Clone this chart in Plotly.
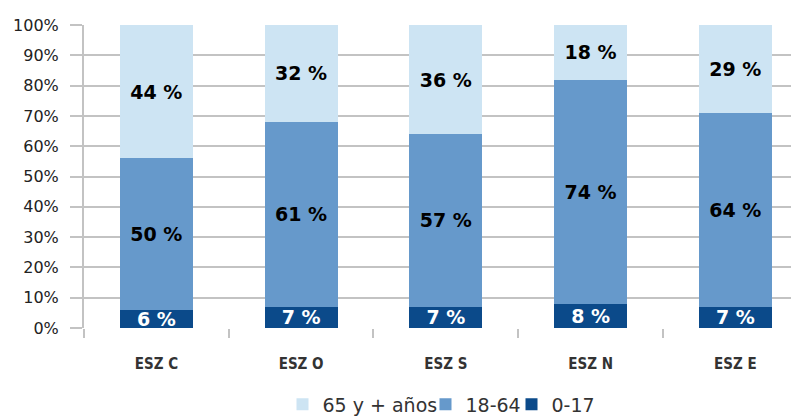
import plotly.graph_objects as go

# Datos
zonas = ['ESZ C', 'ESZ O', 'ESZ S', 'ESZ N', 'ESZ E']
edad_0_17 = [6, 7, 7, 8, 7]
edad_18_64 = [50, 61, 57, 74, 64]
edad_65_mas = [44, 32, 36, 18, 29]

# nombre, valores, color barra, color texto, ancho en leyenda
series = [
    ('0-17', edad_0_17, '#0b4a8a', 'white', 44),
    ('18-64', edad_18_64, '#6699cb', 'black', 41),
    ('65 y + años', edad_65_mas, '#cde4f3', 'black', 98),
]

fig = go.Figure()
for nombre, valores, color, color_texto, ancho_ley in series:
    fig.add_trace(go.Bar(
        x=zonas,
        y=[v / 100 for v in valores],
        name=nombre,
        marker=dict(color=color, line=dict(width=0)),
        text=[f'{v} %' for v in valores],
        textposition='inside',
        insidetextanchor='middle',
        textangle=0,
        textfont=dict(family='DejaVu Sans', size=19, color=color_texto, weight='bold'),
        constraintext='none',
        legendwidth=ancho_ley,
    ))

# la página tiene 8px de margen en el body -> figura de 791x409
fig.update_layout(
    width=791,
    height=409,
    barmode='stack',
    bargap=0.496,
    plot_bgcolor='white',
    paper_bgcolor='white',
    margin=dict(l=76, r=0, t=17, b=88.5, autoexpand=False),
    font=dict(family='DejaVu Sans', color='#222222'),
    showlegend=True,
    legend=dict(
        orientation='h',
        traceorder='reversed',
        x=0.5,
        xref='paper',
        xanchor='center',
        y=-0.252,
        yanchor='middle',
        font=dict(size=19, color='#333333'),
        itemwidth=30,
        tracegroupgap=0,
    ),
    uniformtext=dict(minsize=10, mode='show'),
)

fig.update_yaxes(
    range=[0, 1],
    tickvals=[i / 10 for i in range(11)],
    tickformat='.0%',
    showgrid=True,
    gridcolor='#c3c3c3',
    gridwidth=2,
    ticks='outside',
    ticklen=12,
    tickwidth=2,
    tickcolor='#c3c3c3',
    showline=True,
    linecolor='#c3c3c3',
    linewidth=2,
    tickfont=dict(family='DejaVu Sans', size=16, color='#222222'),
    ticklabelstandoff=8,
    zeroline=False,
    automargin=False,
)

fig.update_xaxes(
    type='category',
    range=[-0.5, 4.44],
    tickson='boundaries',
    ticks='outside',
    ticklen=9,
    tickwidth=2,
    tickcolor='#c3c3c3',
    showline=False,
    showgrid=False,
    tickfont=dict(family='DejaVu Sans Condensed', size=15, color='#333333', weight='bold'),
    ticklabelstandoff=25,
    automargin=False,
)

fig.write_html('out.html')
